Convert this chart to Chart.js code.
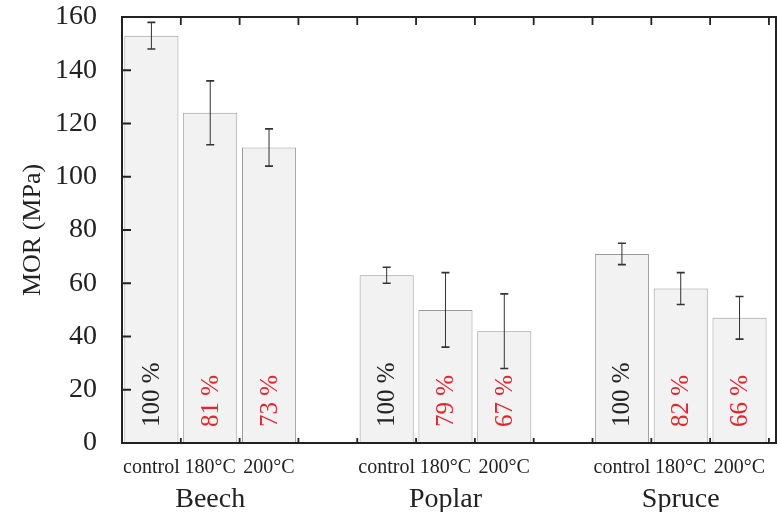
<!DOCTYPE html>
<html>
<head>
<meta charset="utf-8">
<script src="https://cdn.jsdelivr.net/npm/chart.js@4"></script>
<style>
  body { margin: 0; background: #fff; }
  #wrap { width: 780px; height: 512px; }
</style>
</head>
<body>
<div id="wrap"><canvas id="morChart"></canvas></div>
<script>
// data
const groups = ['Beech', 'Poplar', 'Spruce'];
const treatments = ['control', '180°C', '200°C'];
const morMean = [153, 124, 111, 63, 50, 42, 71, 58, 47];
const morErr = [5, 12, 7, 3, 14, 14, 4, 6, 8];
const retained = ['100 %', '81 %', '73 %', '100 %', '79 %', '67 %', '100 %', '82 %', '66 %'];
const yTicks = [0, 20, 40, 60, 80, 100, 120, 140, 160];

const serif = '"Liberation Serif", "DejaVu Serif", serif';
const ink = '#222';
const red = '#e3262d';

// each group takes 3 slots plus one empty slot between groups
const points = morMean.map((v, i) => ({ x: Math.floor(i / 3) * 4 + (i % 3) + 0.5, y: v }));

// error bars, labels inside bars, category labels and the frame
const decorations = {
    id: 'decorations',
    afterDatasetsDraw(chart) {
        const ctx = chart.ctx;
        const area = chart.chartArea;
        const xs = chart.scales.x;
        const ys = chart.scales.y;
        const bars = chart.getDatasetMeta(0).data;

        ctx.save();
        // error bars
        ctx.strokeStyle = '#333';
        bars.forEach((bar, i) => {
            const hi = ys.getPixelForValue(morMean[i] + morErr[i]);
            const lo = ys.getPixelForValue(morMean[i] - morErr[i]);
            ctx.lineWidth = 1;
            ctx.beginPath();
            ctx.moveTo(bar.x, hi);
            ctx.lineTo(bar.x, lo);
            ctx.stroke();
            ctx.lineWidth = 1.6;
            ctx.beginPath();
            ctx.moveTo(bar.x - 4, hi);
            ctx.lineTo(bar.x + 4, hi);
            ctx.moveTo(bar.x - 4, lo);
            ctx.lineTo(bar.x + 4, lo);
            ctx.stroke();
        });

        // rotated percentages
        ctx.font = '25px ' + serif;
        ctx.textAlign = 'left';
        ctx.textBaseline = 'middle';
        bars.forEach((bar, i) => {
            ctx.save();
            ctx.translate(bar.x, area.bottom - 16);
            ctx.rotate(-Math.PI / 2);
            ctx.fillStyle = i % 3 === 0 ? ink : red;
            ctx.fillText(retained[i], 0, 1);
            ctx.restore();
        });

        // treatment and group labels
        ctx.fillStyle = ink;
        ctx.textAlign = 'center';
        ctx.textBaseline = 'alphabetic';
        ctx.font = '20px ' + serif;
        bars.forEach((bar, i) => {
            ctx.fillText(treatments[i % 3], bar.x, area.bottom + 30);
        });
        ctx.font = '28px ' + serif;
        groups.forEach((g, k) => {
            ctx.fillText(g, bars[k * 3 + 1].x, area.bottom + 64);
        });

        // frame
        ctx.strokeStyle = ink;
        ctx.lineWidth = 2;
        ctx.strokeRect(area.left, area.top, area.right - area.left, area.bottom - area.top);

        // inward ticks
        ctx.lineWidth = 1.8;
        ctx.beginPath();
        yTicks.forEach(v => {
            const y = ys.getPixelForValue(v);
            ctx.moveTo(area.left, y);
            ctx.lineTo(area.left + 9, y);
        });
        for (let k = 1; k <= 11; k++) {
            const x = xs.getPixelForValue(k);
            ctx.moveTo(x, area.top);
            ctx.lineTo(x, area.top + 8);
            ctx.moveTo(x, area.bottom);
            ctx.lineTo(x, area.bottom - 5);
        }
        ctx.stroke();
        ctx.restore();
    }
};

function noOverflow(scale) {
    scale.paddingTop = 0;
    scale.paddingBottom = 0;
    scale.paddingLeft = 0;
    scale.paddingRight = 0;
}

const ctx = document.getElementById('morChart').getContext('2d');
new Chart(ctx, {
    type: 'bar',
    data: {
        datasets: [{
            label: 'MOR',
            data: points,
            backgroundColor: '#f2f2f2',
            borderColor: '#9a9a9a',
            borderWidth: 1,
            barPercentage: 0.92,
            categoryPercentage: 1
        }]
    },
    options: {
        responsive: true,
        maintainAspectRatio: false,
        animation: false,
        layout: { padding: { top: 17, right: 4, left: 0, bottom: 0 } },
        plugins: {
            legend: { display: false },
            tooltip: { enabled: false }
        },
        scales: {
            x: {
                type: 'linear',
                offset: false,
                min: 0,
                max: 11.12,
                afterBuildTicks: scale => {
                    scale.ticks = Array.from({ length: 12 }, (_, k) => ({ value: k }));
                },
                ticks: { display: false },
                grid: { display: false },
                border: { display: false },
                afterFit: scale => { scale.height = 69; noOverflow(scale); }
            },
            y: {
                min: 0,
                max: 160,
                afterBuildTicks: scale => {
                    scale.ticks = yTicks.map(v => ({ value: v }));
                },
                ticks: {
                    color: ink,
                    padding: 25,
                    font: { family: serif, size: 28 }
                },
                grid: { display: false, drawTicks: false },
                border: { display: false },
                title: {
                    display: true,
                    text: 'MOR (MPa)',
                    color: ink,
                    font: { family: serif, size: 26 },
                    padding: { top: 18, bottom: 0 }
                },
                afterFit: scale => { scale.width = 122; noOverflow(scale); }
            }
        }
    },
    plugins: [decorations]
});
</script>
</body>
</html>
